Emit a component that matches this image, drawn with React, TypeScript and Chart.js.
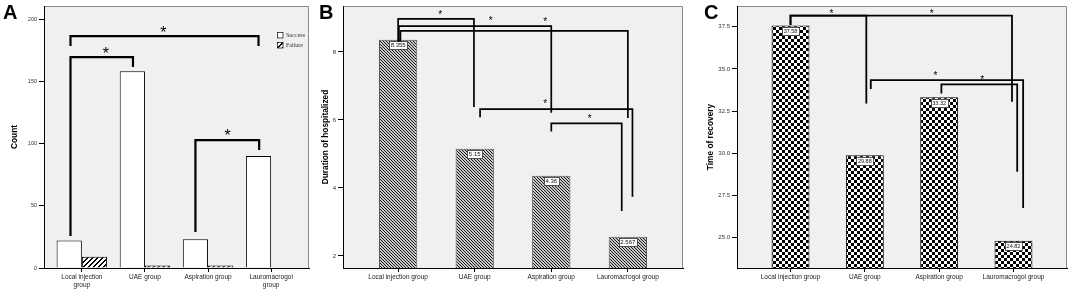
import React, { useEffect, useRef } from "react";
import { Chart, registerables } from "chart.js";

Chart.register(...registerables);

// ---------- data ----------
const CATEGORIES_A: (string | string[])[] = [["Local injection", "group"], "UAE group", "Aspiration group", ["Lauromacrogol", "group"]];
const CATEGORIES_BC: string[] = ["Local injection group", "UAE group", "Aspiration group", "Lauromacrogol group"];
const SUCCESS_COUNT = [22, 158, 23, 90];
const FAILURE_COUNT = [9, 2, 2, 0];
const HOSPITAL_DURATION = [8.355, 5.15, 4.36, 2.567];
const RECOVERY_TIME = [37.58, 29.88, 33.32, 24.82];
const Y_TICKS_A = [0, 50, 100, 150, 200];
const Y_TICKS_B = [2, 4, 6, 8];
const Y_TICKS_C = [25.0, 27.5, 30.0, 32.5, 35.0, 37.5];
const LEGEND_A = ["Success", "Failure"];

// significance brackets, in data units: [x1, x2, yLine, yEnd1, yEnd2, starX, starY]
const SIG_A = [
  [-0.18, 0.81, 169.5, 25.7, 161.4, 0.38, 175.5],
  [-0.18, 2.8, 186.3, 178.3, 178.3, 1.29, 192],
  [1.8, 2.81, 102.8, 28.9, 94.8, 2.31, 109.2],
];
const SIG_B = [
  [0, 0.99, 8.97, 8.3, 6.38, 0.55, 9.16],
  [0.01, 2.0, 8.76, 8.3, 6.21, 1.21, 8.99],
  [0.03, 3.0, 8.62, 8.3, 6.06, 1.92, 8.96],
  [1.07, 3.06, 6.32, 6.08, 3.74, 1.92, 6.54],
  [2.0, 2.92, 5.9, 5.66, 3.32, 2.5, 6.12],
];
const SIG_C = [
  [0, 1.02, 38.16, 37.6, 32.95, 0.55, 38.39],
  [0, 2.98, 38.16, 37.6, 33.05, 1.9, 38.39],
  [1.08, 3.13, 34.34, 33.81, 26.75, 1.95, 34.74],
  [2.03, 3.05, 34.09, 33.55, 28.91, 2.58, 34.5],
];

const FONT = 'Arial, "Liberation Sans", sans-serif';

type Pats = { stripeA: any; stripeB: any; checker: any };

// pixel-exact diagonal stripes: period p, stripe thickness t (px), dir "/" or "\"
function stripePattern(p: number, t: number, color: string, bg: string, dir: "/" | "\\") {
  const c = document.createElement("canvas");
  c.width = p;
  c.height = p;
  const g = c.getContext("2d")!;
  g.fillStyle = bg;
  g.fillRect(0, 0, p, p);
  g.fillStyle = color;
  for (let y = 0; y < p; y++) {
    for (let k = 0; k < t; k++) {
      const x = dir === "\\" ? (y + k) % p : (p - 1 - y + k + p) % p;
      g.fillRect(x, y, 1, 1);
    }
  }
  return g.createPattern(c, "repeat");
}

function checkerPattern(cell: number) {
  const c = document.createElement("canvas");
  c.width = cell * 2;
  c.height = cell * 2;
  const g = c.getContext("2d")!;
  g.fillStyle = "#000";
  g.fillRect(0, 0, cell * 2, cell * 2);
  g.fillStyle = "#fff";
  g.fillRect(0, 0, cell, cell);
  g.fillRect(cell, cell, cell, cell);
  return g.createPattern(c, "repeat");
}

interface PanelSpec {
  left: number;
  width: number;
  yWidth: number;
  titlePad: number;
  padRight: number;
  xMin: number;
  xMax: number;
  yMin: number;
  yMax: number;
  cats: (string | string[])[];
  yTicks: number[];
  tickDigits: number;
  tickSize: number;
  title: string;
  sig: number[][];
  sigWidth: number;
  starSize: number;
  valueLabelSize: number;
  legend: boolean;
  datasets: (p: Pats) => any[];
}

const PANELS: PanelSpec[] = [
  {
    left: 0, width: 318, yWidth: 44, titlePad: 10, padRight: 9,
    xMin: -0.6, xMax: 3.6, yMin: 0, yMax: 210.5,
    cats: CATEGORIES_A, yTicks: Y_TICKS_A, tickDigits: 0, tickSize: 5.5,
    title: "Count", sig: SIG_A, sigWidth: 2.2, starSize: 16, valueLabelSize: 0, legend: true,
    datasets: (p) => [
      {
        label: LEGEND_A[0],
        data: SUCCESS_COUNT.map((v, i) => ({ x: i, y: v })),
        backgroundColor: "#ffffff", borderColor: "#000", borderWidth: 1,
        categoryPercentage: 0.8, barPercentage: 1.0,
      },
      {
        label: LEGEND_A[1],
        data: FAILURE_COUNT.map((v, i) => ({ x: i, y: v })),
        backgroundColor: p.stripeA, borderColor: "#000", borderWidth: 1,
        categoryPercentage: 0.8, barPercentage: 1.0,
      },
    ],
  },
  {
    left: 318, width: 377, yWidth: 25, titlePad: 3, padRight: 12,
    xMin: -0.72, xMax: 3.72, yMin: 1.647, yMax: 9.35,
    cats: CATEGORIES_BC, yTicks: Y_TICKS_B, tickDigits: 0, tickSize: 6,
    title: "Duration of hospitalized", sig: SIG_B, sigWidth: 1.7, starSize: 10, valueLabelSize: 6, legend: false,
    datasets: (p) => [
      {
        label: "Duration of hospitalized",
        data: HOSPITAL_DURATION.map((v, i) => ({ x: i, y: v })),
        backgroundColor: p.stripeB, borderColor: "#555", borderWidth: 1,
        categoryPercentage: 0.5, barPercentage: 1.0,
      },
    ],
  },
  {
    left: 695, width: 377, yWidth: 42, titlePad: 11, padRight: 5,
    xMin: -0.72, xMax: 3.72, yMin: 23.2, yMax: 38.73,
    cats: CATEGORIES_BC, yTicks: Y_TICKS_C, tickDigits: 1, tickSize: 6,
    title: "Time of recovery", sig: SIG_C, sigWidth: 1.8, starSize: 10, valueLabelSize: 5.5, legend: false,
    datasets: (p) => [
      {
        label: "Time of recovery",
        data: RECOVERY_TIME.map((v, i) => ({ x: i, y: v })),
        backgroundColor: p.checker, borderColor: "#000", borderWidth: 1,
        categoryPercentage: 0.51, barPercentage: 1.0,
      },
    ],
  },
];

function buildChart(canvas: HTMLCanvasElement, spec: PanelSpec, pats: Pats) {
  const decor = {
    id: "decor",
    beforeDraw(chart: any) {
      const { ctx, chartArea: a } = chart;
      ctx.save();
      ctx.fillStyle = "#f0f0f0";
      ctx.fillRect(a.left, a.top, a.right - a.left, a.bottom - a.top);
      ctx.strokeStyle = "#8a8a8a";
      ctx.lineWidth = 1;
      ctx.beginPath();
      ctx.moveTo(a.left, a.top + 0.5);
      ctx.lineTo(a.right - 0.5, a.top + 0.5);
      ctx.lineTo(a.right - 0.5, a.bottom);
      ctx.stroke();
      ctx.restore();
    },
    afterDatasetsDraw(chart: any) {
      const { ctx, chartArea: a } = chart;
      const xs = chart.scales.x;
      const ys = chart.scales.y;
      ctx.save();
      // value labels
      if (spec.valueLabelSize > 0) {
        const meta = chart.getDatasetMeta(0);
        const vals = chart.data.datasets[0].data;
        ctx.font = `${spec.valueLabelSize}px ${FONT}`;
        ctx.textAlign = "center";
        ctx.textBaseline = "middle";
        meta.data.forEach((bar: any, i: number) => {
          const txt = String(vals[i].y);
          const tw = ctx.measureText(txt).width;
          const w = Math.round(tw + 3);
          const h = 8;
          const bx = Math.round(bar.x - w / 2) + 0.5;
          const by = Math.round(bar.y + 1.5) + 0.5;
          ctx.fillStyle = "#fff";
          ctx.fillRect(bx, by, w, h);
          ctx.strokeStyle = "#333";
          ctx.lineWidth = 0.8;
          ctx.strokeRect(bx, by, w, h);
          ctx.fillStyle = "#111";
          ctx.fillText(txt, bar.x, by + h / 2 + 0.3);
        });
      }
      // significance brackets
      ctx.strokeStyle = "#000";
      ctx.lineWidth = spec.sigWidth;
      ctx.lineJoin = "miter";
      ctx.lineCap = "butt";
      ctx.fillStyle = "#000";
      ctx.font = `${spec.starSize}px ${FONT}`;
      ctx.textAlign = "center";
      ctx.textBaseline = "alphabetic";
      spec.sig.forEach((s) => {
        const [x1, x2, yl, ye1, ye2, sx, sy] = s;
        const px1 = xs.getPixelForValue(x1);
        const px2 = xs.getPixelForValue(x2);
        ctx.beginPath();
        ctx.moveTo(px1, ys.getPixelForValue(ye1));
        ctx.lineTo(px1, ys.getPixelForValue(yl));
        ctx.lineTo(px2, ys.getPixelForValue(yl));
        ctx.lineTo(px2, ys.getPixelForValue(ye2));
        ctx.stroke();
        ctx.fillText("*", xs.getPixelForValue(sx), ys.getPixelForValue(sy) + spec.starSize * 0.575);
      });
      // legend
      if (spec.legend) {
        const lx = a.right - 32;
        const ly = a.top + 26;
        const fills = [chart.data.datasets[0].backgroundColor, chart.data.datasets[1].backgroundColor];
        ctx.font = `6px "Liberation Serif", "Times New Roman", serif`;
        ctx.textAlign = "left";
        ctx.textBaseline = "middle";
        LEGEND_A.forEach((lab, i) => {
          const y = ly + i * 10;
          ctx.fillStyle = fills[i];
          ctx.fillRect(lx, y, 6, 6);
          ctx.strokeStyle = "#222";
          ctx.lineWidth = 0.8;
          ctx.strokeRect(lx + 0.5, y + 0.5, 5.5, 5.5);
          ctx.fillStyle = "#333";
          ctx.fillText(lab, lx + 9, y + 3.3);
        });
      }
      ctx.restore();
    },
  };

  return new Chart(canvas, {
    type: "bar",
    data: { datasets: spec.datasets(pats) },
    options: {
      responsive: false,
      maintainAspectRatio: false,
      devicePixelRatio: 1,
      animation: false,
      events: [],
      layout: { padding: { left: 0, right: spec.padRight, top: 6, bottom: 0 } },
      plugins: { legend: { display: false }, tooltip: { enabled: false } },
      scales: {
        x: {
          type: "linear",
          min: spec.xMin,
          max: spec.xMax,
          offset: false,
          afterBuildTicks: (s: any) => {
            s.ticks = spec.cats.map((_, i) => ({ value: i }));
          },
          afterFit: (s: any) => {
            s.height = 25;
          },
          ticks: {
            autoSkip: false,
            maxRotation: 0,
            minRotation: 0,
            padding: 1,
            color: "#222",
            font: { size: 6.5, family: FONT, lineHeight: 1.25 },
            callback: (v: any) => spec.cats[Math.round(v)],
          },
          grid: { offset: false, drawOnChartArea: false, drawTicks: true, tickLength: 4, color: "#000" },
          border: { display: true, color: "#000", width: 1 },
        },
        y: {
          type: "linear",
          min: spec.yMin,
          max: spec.yMax,
          afterBuildTicks: (s: any) => {
            s.ticks = spec.yTicks.map((v) => ({ value: v }));
          },
          afterFit: (s: any) => {
            s.width = spec.yWidth;
          },
          ticks: {
            padding: 2,
            color: "#333",
            font: { size: spec.tickSize, family: FONT },
            callback: (v: any) => Number(v).toFixed(spec.tickDigits),
          },
          grid: { drawOnChartArea: false, drawTicks: true, tickLength: 5, color: "#000" },
          border: { display: true, color: "#000", width: 1 },
          title: {
            display: true,
            text: spec.title,
            color: "#000",
            font: { size: 8.3, weight: "bold", family: FONT },
            padding: { top: spec.titlePad, bottom: 0 },
          },
        },
      },
    } as any,
    plugins: [decor],
  });
}

const LETTERS = [
  { text: "A", left: 3 },
  { text: "B", left: 319 },
  { text: "C", left: 704 },
];

export default function App() {
  const refs = [useRef<HTMLCanvasElement>(null), useRef<HTMLCanvasElement>(null), useRef<HTMLCanvasElement>(null)];

  useEffect(() => {
    const pats: Pats = {
      stripeA: stripePattern(5, 2, "#000", "#fff", "/"),
      stripeB: stripePattern(3, 1, "#1a1a1a", "#c8c8c8", "\\"),
      checker: checkerPattern(3),
    };
    const charts = PANELS.map((spec, i) => buildChart(refs[i].current!, spec, pats));
    return () => charts.forEach((c) => c.destroy());
  }, []);

  return (
    <div style={{ position: "absolute", left: 0, top: 0, width: 1072, height: 293, background: "#fff", overflow: "hidden" }}>
      {PANELS.map((p, i) => (
        <canvas
          key={i}
          ref={refs[i]}
          width={p.width}
          height={293}
          style={{ position: "absolute", left: p.left, top: 0, width: p.width, height: 293, display: "block" }}
        />
      ))}
      {LETTERS.map((l) => (
        <div
          key={l.text}
          style={{
            position: "absolute",
            left: l.left,
            top: 2,
            font: `bold 20px ${FONT}`,
            lineHeight: "20px",
            color: "#000",
          }}
        >
          {l.text}
        </div>
      ))}
    </div>
  );
}
